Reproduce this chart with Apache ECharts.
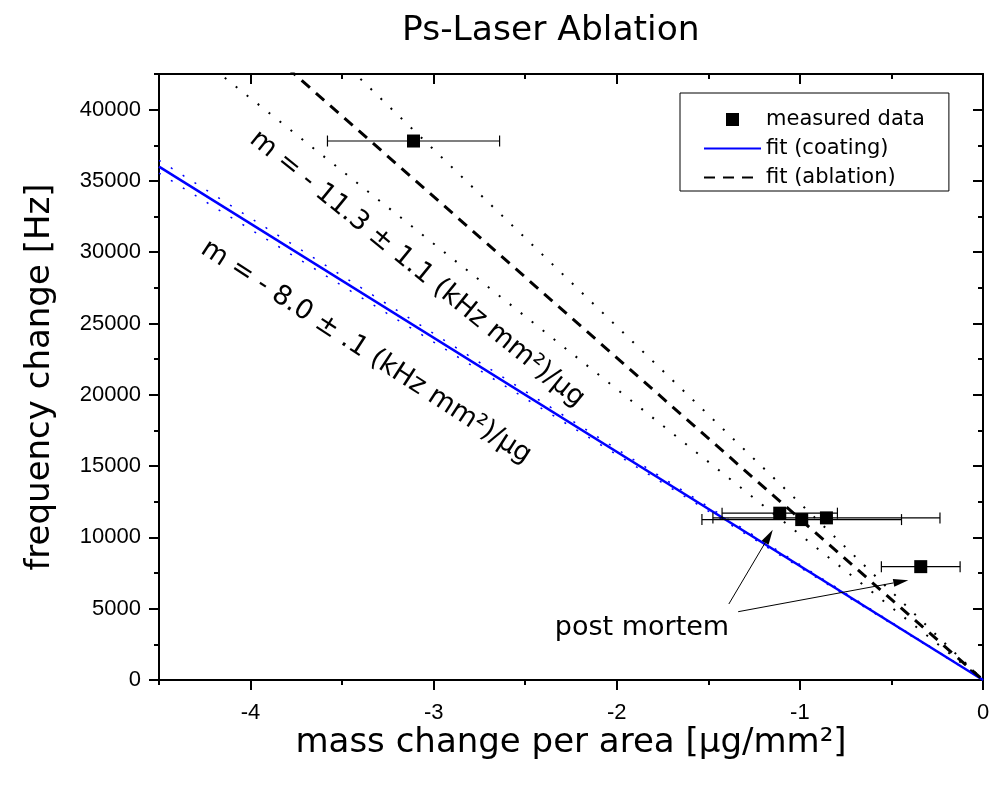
<!DOCTYPE html>
<html>
<head>
<meta charset="utf-8">
<title>Ps-Laser Ablation</title>
<script src="https://cdn.jsdelivr.net/npm/echarts@6/dist/echarts.min.js"></script>
<style>
  html, body { margin: 0; padding: 0; background: #fff; }
  #chart { width: 991px; height: 791px; }
</style>
</head>
<body>
<div id="chart"></div>
<script>
// measured points: mass change per area [ug/mm2] vs frequency change [Hz]
const massData = [-3.11, -1.11, -0.99, -0.855, -0.34];
const freqData = [37800, 11700, 11250, 11370, 7950];
const massErr = [0.47, 0.315, 0.545, 0.62, 0.215];

// fit lines through the origin, values at both ends of the x range
const fitX = [-4.5, 0];
const coatingFit = [36000, 0];   // m = -8.0
const coatingLow = [35550, 0];   // m = -7.9
const coatingHigh = [36450, 0];  // m = -8.1
const ablationFit = [50850, 0];  // m = -11.3
const ablationLow = [45900, 0];  // m = -10.2
const ablationHigh = [55800, 0]; // m = -12.4

// arrows to the post mortem points
const arrowFrom = [[-1.388, 5330], [-1.337, 4790]];
const arrowTo = [[-1.148, 10530], [-0.408, 7000]];

const xMajorTicks = [-4, -3, -2, -1, 0];
const xMinorTicks = [-4.5, -3.5, -2.5, -1.5, -0.5];
const yMajorTicks = [0, 5000, 10000, 15000, 20000, 25000, 30000, 35000, 40000];
const yMinorTicks = [2500, 7500, 12500, 17500, 22500, 27500, 32500, 37500, 42500];

const FONT = "DejaVu Sans";
const TICK_FONT = "Liberation Sans";

function pairs(xs, ys) {
  return xs.map((x, i) => [x, ys[i]]);
}

function xAx(position, ticks, len, inside, showLine, labels) {
  return {
    type: "value", min: -4.5, max: 0, position: position,
    axisLine: { show: showLine, onZero: false, lineStyle: { color: "#000", width: 2 } },
    axisTick: { show: true, inside: inside, customValues: ticks, length: len, lineStyle: { color: "#000", width: 2 } },
    axisLabel: labels ? {
      customValues: ticks, color: "#000", fontFamily: TICK_FONT, fontSize: 22, margin: 22,
      formatter: v => String(v)
    } : { show: false },
    splitLine: { show: false }
  };
}

function yAx(position, ticks, len, inside, showLine, labels) {
  return {
    type: "value", min: 0, max: 42500, position: position,
    axisLine: { show: showLine, onZero: false, lineStyle: { color: "#000", width: 2 } },
    axisTick: { show: true, inside: inside, customValues: ticks, length: len, lineStyle: { color: "#000", width: 2 } },
    axisLabel: labels ? {
      customValues: ticks, color: "#000", fontFamily: TICK_FONT, fontSize: 22, margin: 18,
      formatter: v => String(v)
    } : { show: false },
    splitLine: { show: false }
  };
}

const xBottom = xAx("bottom", xMajorTicks, 10, false, true, true);
xBottom.name = "mass change per area [μg/mm²]";
xBottom.nameLocation = "middle";
xBottom.nameGap = 46;
xBottom.nameMoveOverlap = false;
xBottom.nameTextStyle = { color: "#000", fontFamily: FONT, fontSize: 34 };

const yLeft = yAx("left", yMajorTicks, 10, false, true, true);
yLeft.name = "frequency change [Hz]";
yLeft.nameLocation = "middle";
yLeft.nameGap = 102;
yLeft.nameMoveOverlap = false;
yLeft.nameTextStyle = { color: "#000", fontFamily: FONT, fontSize: 34 };

const dotted = [2, 12];
const noMarker = { color: "transparent", borderWidth: 0 };

const chart = echarts.init(document.getElementById("chart"));
chart.setOption({
  animation: false,
  backgroundColor: "#fff",
  title: {
    text: "Ps-Laser Ablation",
    left: 402, top: 14, padding: 0,
    textStyle: { fontFamily: FONT, fontSize: 34.5, fontWeight: "normal", color: "#000" }
  },
  grid: { left: 159, right: 8, top: 74, bottom: 111, containLabel: false, outerBoundsMode: "none" },
  legend: {
    orient: "vertical", left: 680, top: 93,
    padding: [16, 24, 3, 23],
    itemWidth: 57, itemHeight: 13, itemGap: 8,
    borderColor: "#000", borderWidth: 1, borderRadius: 0,
    selectedMode: false,
    textStyle: { fontFamily: FONT, fontSize: 21, color: "#000" },
    data: [
      { name: "measured data", icon: "path://M0,0H10V10H0Z", itemStyle: { color: "#000", opacity: 1 } },
      { name: "fit (coating)", itemStyle: noMarker },
      { name: "fit (ablation)", itemStyle: noMarker }
    ]
  },
  xAxis: [
    xBottom,
    xAx("bottom", xMinorTicks, 5, false, false, false),
    xAx("top", xMajorTicks, 10, true, true, false),
    xAx("top", xMinorTicks, 5, true, false, false)
  ],
  yAxis: [
    yLeft,
    yAx("left", yMinorTicks, 5, false, false, false),
    yAx("right", yMajorTicks, 10, true, true, false),
    yAx("right", yMinorTicks, 5, true, false, false)
  ],
  graphic: [
    {
      type: "text", x: 417, y: 269, rotation: -39 * Math.PI / 180,
      style: { text: "m = - 11.3 ± 1.1 (kHz mm²)/μg", fontFamily: FONT, fontSize: 27, fill: "#000", align: "center", verticalAlign: "middle" }
    },
    {
      type: "text", x: 366, y: 352, rotation: -33 * Math.PI / 180,
      style: { text: "m = - 8.0 ± .1 (kHz mm²)/μg", fontFamily: FONT, fontSize: 27, fill: "#000", align: "center", verticalAlign: "middle" }
    },
    {
      type: "text", x: 642, y: 628,
      style: { text: "post mortem", fontFamily: FONT, fontSize: 27, fill: "#000", align: "center", verticalAlign: "middle" }
    }
  ],
  series: [
    {
      name: "fit (coating)", type: "line", data: pairs(fitX, coatingFit),
      symbol: "none", clip: true, silent: true, z: 3,
      lineStyle: { color: "#0000ff", width: 2.5 }, itemStyle: { color: "#0000ff" }
    },
    {
      name: "coating low", type: "line", data: pairs(fitX, coatingLow),
      symbol: "none", clip: true, silent: true, z: 2,
      lineStyle: { color: "#0000ff", width: 1.5, type: dotted }
    },
    {
      name: "coating high", type: "line", data: pairs(fitX, coatingHigh),
      symbol: "none", clip: true, silent: true, z: 2,
      lineStyle: { color: "#0000ff", width: 1.5, type: dotted }
    },
    {
      name: "fit (ablation)", type: "line", data: pairs(fitX, ablationFit),
      symbol: "none", clip: true, silent: true, z: 3,
      lineStyle: { color: "#000", width: 3, type: [11, 8] }, itemStyle: { color: "#000" }
    },
    {
      name: "ablation low", type: "line", data: pairs(fitX, ablationLow),
      symbol: "none", clip: true, silent: true, z: 2,
      lineStyle: { color: "#000", width: 2, type: dotted }
    },
    {
      name: "ablation high", type: "line", data: pairs(fitX, ablationHigh),
      symbol: "none", clip: true, silent: true, z: 2,
      lineStyle: { color: "#000", width: 2, type: dotted }
    },
    {
      // horizontal error bars
      type: "custom", silent: true, z: 4,
      data: massData.map((x, i) => [x, freqData[i], x - massErr[i], x + massErr[i]]),
      encode: { x: [0, 2, 3], y: 1 },
      renderItem: function (params, api) {
        const y = api.value(1);
        const lo = api.coord([api.value(2), y]);
        const hi = api.coord([api.value(3), y]);
        const cap = 5.5;
        const style = { stroke: "#000", lineWidth: 1.2 };
        return {
          type: "group",
          children: [
            { type: "line", shape: { x1: lo[0], y1: lo[1], x2: hi[0], y2: hi[1] }, style: style },
            { type: "line", shape: { x1: lo[0], y1: lo[1] - cap, x2: lo[0], y2: lo[1] + cap }, style: style },
            { type: "line", shape: { x1: hi[0], y1: hi[1] - cap, x2: hi[0], y2: hi[1] + cap }, style: style }
          ]
        };
      }
    },
    {
      name: "measured data", type: "scatter", data: pairs(massData, freqData),
      symbol: "rect", symbolSize: 13, silent: true, z: 5,
      itemStyle: { color: "#000", opacity: 1 }
    },
    {
      // annotation arrows
      type: "custom", silent: true, z: 6,
      data: arrowFrom.map((p, i) => [p[0], p[1], arrowTo[i][0], arrowTo[i][1]]),
      encode: { x: [0, 2], y: [1, 3] },
      renderItem: function (params, api) {
        const a = api.coord([api.value(0), api.value(1)]);
        const b = api.coord([api.value(2), api.value(3)]);
        const dx = b[0] - a[0], dy = b[1] - a[1];
        const len = Math.sqrt(dx * dx + dy * dy);
        const ux = dx / len, uy = dy / len;
        const hl = 15, hw = 4;
        const bx = b[0] - ux * hl, by = b[1] - uy * hl;
        return {
          type: "group",
          children: [
            { type: "line", shape: { x1: a[0], y1: a[1], x2: bx, y2: by }, style: { stroke: "#000", lineWidth: 1 } },
            {
              type: "polygon",
              shape: { points: [[b[0], b[1]], [bx - uy * hw, by + ux * hw], [bx + uy * hw, by - ux * hw]] },
              style: { fill: "#000" }
            }
          ]
        };
      }
    }
  ]
});
</script>
</body>
</html>
